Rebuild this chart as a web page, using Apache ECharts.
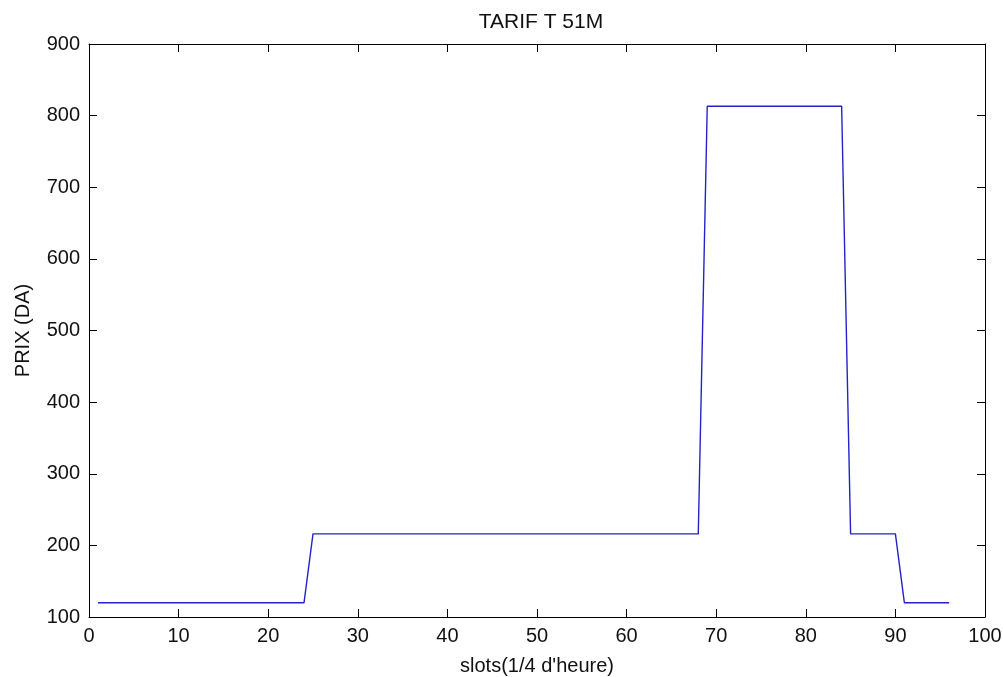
<!DOCTYPE html>
<html>
<head>
<meta charset="utf-8">
<script src="https://cdn.jsdelivr.net/npm/echarts@6/dist/echarts.min.js"></script>
<style>
html,body{margin:0;padding:0;background:#fff;}
#chart{width:1003px;height:677px;}
</style>
</head>
<body>
<div id="chart"></div>
<script>
const titleText = 'TARIF T 51M';
const xName = "slots(1/4 d'heure)";
const yName = 'PRIX (DA)';
const slots = [1,2,3,4,5,6,7,8,9,10,11,12,13,14,15,16,17,18,19,20,21,22,23,24,
  25,26,27,28,29,30,31,32,33,34,35,36,37,38,39,40,41,42,43,44,45,46,47,48,
  49,50,51,52,53,54,55,56,57,58,59,60,61,62,63,64,65,66,67,68,69,70,71,72,
  73,74,75,76,77,78,79,80,81,82,83,84,85,86,87,88,89,90,91,92,93,94,95,96];
const prix = [120,120,120,120,120,120,120,120,120,120,120,120,120,120,120,120,120,120,120,120,120,120,120,120,
  216,216,216,216,216,216,216,216,216,216,216,216,216,216,216,216,216,216,216,216,216,216,216,216,
  216,216,216,216,216,216,216,216,216,216,216,216,216,216,216,216,216,216,216,216,813,813,813,813,
  813,813,813,813,813,813,813,813,813,813,813,813,216,216,216,216,216,216,120,120,120,120,120,120];
const xTicks = [0,10,20,30,40,50,60,70,80,90,100];
const yTicks = [100,200,300,400,500,600,700,800,900];

const font = '"Liberation Sans", Arial, sans-serif';
const fs = 20;
const data = slots.map((s, i) => [s, prix[i]]);
const chart = echarts.init(document.getElementById('chart'));
const axisLine = {show: true, onZero: false, lineStyle: {color: '#000', width: 1}};
const tick = {show: true, inside: true, length: 8, lineStyle: {color: '#000', width: 1}};
chart.setOption({
  animation: false,
  backgroundColor: '#fff',
  title: {text: titleText, left: 536, textAlign: 'center', top: 7,
    textStyle: {fontFamily: font, fontSize: 21, fontWeight: 'normal', color: '#111'}},
  grid: {left: 89, right: 18, top: 44, bottom: 60, outerBoundsMode: 'none', containLabel: false},
  xAxis: [{
    type: 'value', min: xTicks[0], max: xTicks[xTicks.length-1], interval: 10,
    position: 'bottom',
    name: xName, nameLocation: 'middle', nameGap: 39,
    nameTextStyle: {fontFamily: font, fontSize: fs, color: '#111'},
    axisLine: axisLine, axisTick: tick,
    axisLabel: {fontFamily: font, fontSize: fs, color: '#111', margin: 9},
    splitLine: {show: false}
  }, {
    type: 'value', min: xTicks[0], max: xTicks[xTicks.length-1], interval: 10,
    position: 'top', axisLine: axisLine, axisTick: tick,
    axisLabel: {show: false}, splitLine: {show: false}
  }],
  yAxis: [{
    type: 'value', min: yTicks[0], max: yTicks[yTicks.length-1], interval: 100,
    position: 'left',
    name: yName, nameLocation: 'middle', nameGap: 56, nameRotate: 90,
    nameTextStyle: {fontFamily: font, fontSize: fs, color: '#111'},
    axisLine: axisLine, axisTick: tick,
    axisLabel: {fontFamily: font, fontSize: fs, color: '#111', margin: 9},
    splitLine: {show: false}
  }, {
    type: 'value', min: yTicks[0], max: yTicks[yTicks.length-1], interval: 100,
    position: 'right', axisLine: axisLine, axisTick: tick,
    axisLabel: {show: false}, splitLine: {show: false}
  }],
  series: [{
    type: 'line', data: data, symbol: 'none', showSymbol: false,
    xAxisIndex: 0, yAxisIndex: 0,
    lineStyle: {color: '#2323c8', width: 1.4}
  }]
});
</script>
</body>
</html>
